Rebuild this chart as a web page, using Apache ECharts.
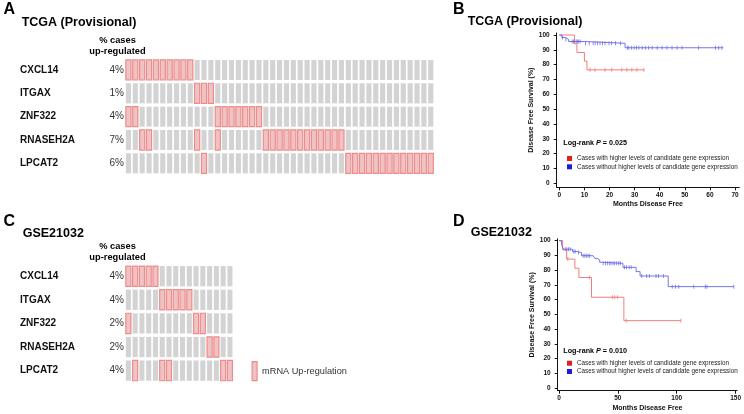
<!DOCTYPE html>
<html><head><meta charset="utf-8">
<script src="https://cdn.jsdelivr.net/npm/echarts@6/dist/echarts.min.js"></script>
<style>html,body{margin:0;padding:0;background:#fff}#c{width:744px;height:414px}</style>
</head><body><div id="c"></div>
<script>
// ---------------- data ----------------
const genes = ['CXCL14', 'ITGAX', 'ZNF322', 'RNASEH2A', 'LPCAT2'];
const pctA = ['4%', '1%', '4%', '7%', '6%'];
const pctC = ['4%', '4%', '2%', '2%', '4%'];
const casesA = 45;
const casesC = 16;
// columns (cases) with mRNA up-regulation, per gene row
const upA_CXCL14 = [0, 1, 2, 3, 4, 5, 6, 7, 8, 9];
const upA_ITGAX = [10, 11, 12];
const upA_ZNF322 = [0, 1, 13, 14, 15, 16, 17, 18, 19];
const upA_RNASEH2A = [2, 3, 10, 13, 20, 21, 22, 23, 24, 25, 26, 27, 28, 29, 30, 31];
const upA_LPCAT2 = [11, 32, 33, 34, 35, 36, 37, 38, 39, 40, 41, 42, 43, 44];
const upC_CXCL14 = [0, 1, 2, 3, 4];
const upC_ITGAX = [5, 6, 7, 8, 9];
const upC_ZNF322 = [0, 10, 11];
const upC_RNASEH2A = [12, 13];
const upC_LPCAT2 = [1, 5, 6, 14, 15];

const nameHigh = 'Cases with higher levels of candidate gene expression';
const nameLow = 'Cases without higher levels of candidate gene expression';

// Kaplan-Meier, TCGA (months, % disease free)
const kmB_high = [[0, 100], [6, 94.1], [7, 88.2], [10, 82.4], [11, 76.5], [33.7, 76.5]];
const kmB_low = [[0, 100], [1, 98.3], [2.4, 97], [3.7, 95.6], [10, 94.4], [26.2, 91.4], [65.3, 91.4]];
const censB_high = [[12.2, 76.5], [14.2, 76.5], [18.2, 76.5], [20.9, 76.5], [24.9, 76.5], [26.9, 76.5], [28.9, 76.5], [30.9, 76.5], [33.7, 76.5]];
const censB_low = [[1.3, 98.3], [2.6, 97], [5.1, 95.6], [5.6, 95.6], [6.1, 95.6], [6.7, 95.6], [7.2, 95.6], [7.7, 95.6], [8.3, 95.6],
  [10.4, 94.4], [11.9, 94.4], [13.5, 94.4], [14.3, 94.4], [15.2, 94.4], [16.2, 94.4], [17.2, 94.4], [18.2, 94.4], [19.8, 94.4], [20.8, 94.4], [22.4, 94.4], [24.4, 94.4],
  [27.1, 91.4], [27.7, 91.4], [28.8, 91.4], [29.8, 91.4], [30.7, 91.4], [31.7, 91.4], [33, 91.4], [34.3, 91.4], [35.6, 91.4], [37, 91.4], [39, 91.4], [40.9, 91.4],
  [42.9, 91.4], [44.9, 91.4], [46.9, 91.4], [48.9, 91.4], [55.5, 91.4], [62.2, 91.4], [63.5, 91.4], [64.8, 91.4]];

// Kaplan-Meier, GSE21032
const kmD_high = [[0, 100], [3.1, 93.8], [6.5, 87.5], [13.5, 81.3], [16.9, 75], [27.6, 61.6], [55.1, 45.7], [103.5, 45.7]];
const kmD_low = [[0, 100], [2.2, 97.3], [3.6, 94.2], [11.5, 92.6], [15.5, 91.9], [19.1, 89.8], [29, 89.1], [30.4, 88], [32.4, 86.9],
  [34.6, 85.3], [36.9, 84.6], [54.3, 81.9], [65.5, 79], [68.9, 76], [92.8, 68.8], [148.5, 68.8]];
const censD_high = [[7.5, 87.5], [25.8, 75], [45.3, 61.6], [47.3, 61.6], [49.6, 61.6], [57.1, 45.7], [103.5, 45.7]];
const censD_low = [[5.3, 94.2], [6.7, 94.2], [8.1, 94.2], [9.5, 94.2], [12.6, 92.6], [13.7, 92.6], [16.6, 91.9],
  [20.5, 89.8], [21.9, 89.8], [23.3, 89.8], [24.7, 89.8], [26.1, 89.8],
  [37.5, 84.6], [39.4, 84.6], [41.1, 84.6], [42.8, 84.6], [44.2, 84.6], [45.9, 84.6], [47.3, 84.6], [49, 84.6], [50.7, 84.6], [52.1, 84.6],
  [55.6, 81.9], [57.3, 81.9], [59.6, 81.9], [61.3, 81.9],
  [70.3, 76], [74.5, 76], [76.8, 76], [82.4, 76], [84.4, 76], [88.7, 76],
  [96.2, 68.8], [99, 68.8], [101.8, 68.8], [114.5, 68.8], [124.3, 68.8], [125.7, 68.8], [148.5, 68.8]];

const kmTicksY = [0, 10, 20, 30, 40, 50, 60, 70, 80, 90, 100];
const kmTicksXB = [0, 10, 20, 30, 40, 50, 60, 70];
const kmTicksXD = [0, 50, 100, 150];

// ---------------- build ----------------
const FONT = '"Liberation Sans", Arial, sans-serif';
const GREY = '#d3d3d3', PINK_FILL = '#efc3c3', PINK_LINE = '#ee8c8c';
const RED_LINE = '#ef6f6f', BLUE_LINE = '#6565e6';

function allCells(n) {
  const d = [];
  for (let r = 0; r < genes.length; r++) for (let c = 0; c < n; c++) d.push([c, r]);
  return d;
}
function upCells(rows) {
  const d = [];
  rows.forEach((cols, r) => cols.forEach(c => d.push([c, r])));
  return d;
}
function cellRender(fill, stroke) {
  return function (params, api) {
    const p = api.coord([api.value(0), api.value(1)]);
    const s = api.size([1, 1]);
    const w = s[0] * 0.75, h = s[1] * 0.86;
    return {
      type: 'rect',
      shape: { x: p[0] - w / 2, y: p[1] - h / 2, width: w, height: h },
      style: { fill: fill, stroke: stroke || null, lineWidth: stroke ? 1.2 : 0 }
    };
  };
}
const colsA = Array.from({ length: casesA }, (_, i) => String(i));
const colsC = Array.from({ length: casesC }, (_, i) => String(i));

function geneAxis(grid) {
  return {
    gridIndex: grid, type: 'category', data: genes, inverse: true, position: 'left',
    axisLine: { show: false }, axisTick: { show: false },
    axisLabel: { align: 'left', margin: 105, fontFamily: FONT, fontSize: 10, fontWeight: 'bold', color: '#111' }
  };
}
function pctAxis(grid, pcts) {
  return {
    gridIndex: grid, type: 'category', data: pcts, inverse: true, position: 'left', offset: 0,
    axisLine: { show: false }, axisTick: { show: false },
    axisLabel: { align: 'right', margin: 1, fontFamily: FONT, fontSize: 10, color: '#333' }
  };
}
function kmX(grid, min, max, ticks) {
  return {
    gridIndex: grid, type: 'value', min: min, max: max,
    name: 'Months Disease Free', nameLocation: 'middle', nameGap: 13.5,
    nameTextStyle: { fontFamily: FONT, fontSize: 7, fontWeight: 'bold', color: '#111' },
    axisLine: { onZero: false, lineStyle: { color: '#111', width: 1 } },
    axisTick: { customValues: ticks, length: 3, lineStyle: { color: '#111' } },
    axisLabel: { customValues: ticks, margin: 4.5, fontFamily: FONT, fontSize: 6.5, fontWeight: 'bold', color: '#111' },
    splitLine: { show: false }
  };
}
function kmY(grid, min, max) {
  return {
    gridIndex: grid, type: 'value', min: min, max: max,
    name: 'Disease Free Survival (%)', nameLocation: 'middle', nameGap: 19.5,
    nameTextStyle: { fontFamily: FONT, fontSize: 7, fontWeight: 'bold', color: '#111' },
    axisLine: { show: true, onZero: false, lineStyle: { color: '#111', width: 1 } },
    axisTick: { show: true, customValues: kmTicksY, length: 3, lineStyle: { color: '#111' } },
    axisLabel: { customValues: kmTicksY, margin: 7, fontFamily: FONT, fontSize: 6.5, fontWeight: 'bold', color: '#111' },
    splitLine: { show: false }
  };
}
function kmLine(name, data, color, xi, yi) {
  return {
    name: name, type: 'line', step: 'end', data: data, xAxisIndex: xi, yAxisIndex: yi,
    symbol: 'none', lineStyle: { color: color, width: 0.9 }, itemStyle: { color: color }, silent: true
  };
}
function kmCens(name, data, color, xi, yi) {
  return {
    name: name, type: 'scatter', data: data, xAxisIndex: xi, yAxisIndex: yi,
    symbol: 'rect', symbolSize: [0.9, 4], itemStyle: { color: color }, silent: true
  };
}
function kmLegend(top) {
  return {
    orient: 'vertical', left: 567, top: top, padding: 0, itemWidth: 5, itemHeight: 5, itemGap: 2.3,
    selectedMode: false, icon: 'rect',
    textStyle: { fontFamily: FONT, fontSize: 6.3, color: '#222', padding: [0, 0, 0, 0] },
    data: [
      { name: nameHigh, itemStyle: { color: '#e0201e' } },
      { name: nameLow, itemStyle: { color: '#1b1be0' } }
    ]
  };
}
function txt(x, y, text, size, weight, align) {
  return {
    type: 'text', x: x, y: y, silent: true,
    style: { text: text, fontFamily: FONT, fontSize: size, fontWeight: weight || 'normal', fill: '#000',
      textAlign: align || 'left', textVerticalAlign: 'middle' }
  };
}
function logrank(x, y, p) {
  return {
    type: 'text', x: x, y: y, silent: true,
    style: {
      text: '{b|Log-rank }{i|P}{b| = ' + p + '}', textVerticalAlign: 'middle',
      rich: {
        b: { fontFamily: FONT, fontSize: 7.2, fontWeight: 'bold', fill: '#000' },
        i: { fontFamily: FONT, fontSize: 7.2, fontWeight: 'bold', fontStyle: 'italic', fill: '#000' }
      }
    }
  };
}

const option = {
  animation: false,
  backgroundColor: '#fff',
  grid: [
    { left: 125, top: 58.3, width: 309.2, height: 116.7 },
    { left: 125, top: 264.4, width: 108.3, height: 118 },
    { left: 556.7, top: 33, width: 182.6, height: 154.3 },
    { left: 557.7, top: 238.9, width: 180.6, height: 151.8 }
  ],
  xAxis: [
    { gridIndex: 0, type: 'category', data: colsA, show: false },
    { gridIndex: 1, type: 'category', data: colsC, show: false },
    kmX(2, -1.05, 71.7, kmTicksXB),
    kmX(3, -1.1, 151.3, kmTicksXD)
  ],
  yAxis: [
    geneAxis(0), pctAxis(0, pctA),
    geneAxis(1), pctAxis(1, pctC),
    kmY(2, -2.7, 101.35),
    kmY(3, -1.83, 101.2)
  ],
  legend: [
    {
      left: 251.5, top: 361, padding: 0, itemWidth: 5, itemHeight: 19, selectedMode: false, itemGap: 5,
      textStyle: { fontFamily: FONT, fontSize: 9.2, color: '#333' },
      data: [{ name: 'mRNA Up-regulation', icon: 'rect', itemStyle: { color: PINK_FILL, borderColor: PINK_LINE, borderWidth: 1.2 } }]
    },
    kmLegend(155.5),
    kmLegend(360.2)
  ],
  graphic: [
    txt(3.5, 9.5, 'A', 16, 'bold'),
    txt(21.7, 23, 'TCGA (Provisional)', 12.5, 'bold'),
    txt(117.5, 40.3, '% cases', 9.3, 'bold', 'center'),
    txt(117.5, 51.5, 'up-regulated', 9.3, 'bold', 'center'),
    txt(3.5, 221.7, 'C', 16, 'bold'),
    txt(22.7, 234, 'GSE21032', 12.5, 'bold'),
    txt(117.5, 246, '% cases', 9.3, 'bold', 'center'),
    txt(117.5, 257.3, 'up-regulated', 9.3, 'bold', 'center'),
    txt(453, 9.5, 'B', 16, 'bold'),
    txt(467.7, 22, 'TCGA (Provisional)', 12.5, 'bold'),
    txt(453, 221.7, 'D', 16, 'bold'),
    txt(470.7, 233, 'GSE21032', 12.5, 'bold'),
    logrank(563.3, 142.7, '0.025'),
    logrank(563.3, 350.7, '0.010')
  ],
  series: [
    { name: 'bgA', type: 'custom', xAxisIndex: 0, yAxisIndex: 0, data: allCells(casesA), renderItem: cellRender(GREY), silent: true },
    { name: 'mRNA Up-regulation', type: 'custom', xAxisIndex: 0, yAxisIndex: 0, itemStyle: { color: PINK_FILL },
      data: upCells([upA_CXCL14, upA_ITGAX, upA_ZNF322, upA_RNASEH2A, upA_LPCAT2]), renderItem: cellRender(PINK_FILL, PINK_LINE), silent: true },
    { name: 'bgC', type: 'custom', xAxisIndex: 1, yAxisIndex: 2, data: allCells(casesC), renderItem: cellRender(GREY), silent: true },
    { name: 'mRNA Up-regulation', type: 'custom', xAxisIndex: 1, yAxisIndex: 2, itemStyle: { color: PINK_FILL },
      data: upCells([upC_CXCL14, upC_ITGAX, upC_ZNF322, upC_RNASEH2A, upC_LPCAT2]), renderItem: cellRender(PINK_FILL, PINK_LINE), silent: true },
    kmLine(nameHigh, kmB_high, RED_LINE, 2, 4),
    kmLine(nameLow, kmB_low, BLUE_LINE, 2, 4),
    kmCens('cB_high', censB_high, RED_LINE, 2, 4),
    kmCens('cB_low', censB_low, BLUE_LINE, 2, 4),
    kmLine(nameHigh, kmD_high, RED_LINE, 3, 5),
    kmLine(nameLow, kmD_low, BLUE_LINE, 3, 5),
    kmCens('cD_high', censD_high, RED_LINE, 3, 5),
    kmCens('cD_low', censD_low, BLUE_LINE, 3, 5)
  ]
};
const chart = echarts.init(document.getElementById('c'), null, { renderer: 'canvas' });
chart.setOption(option);
</script></body></html>
